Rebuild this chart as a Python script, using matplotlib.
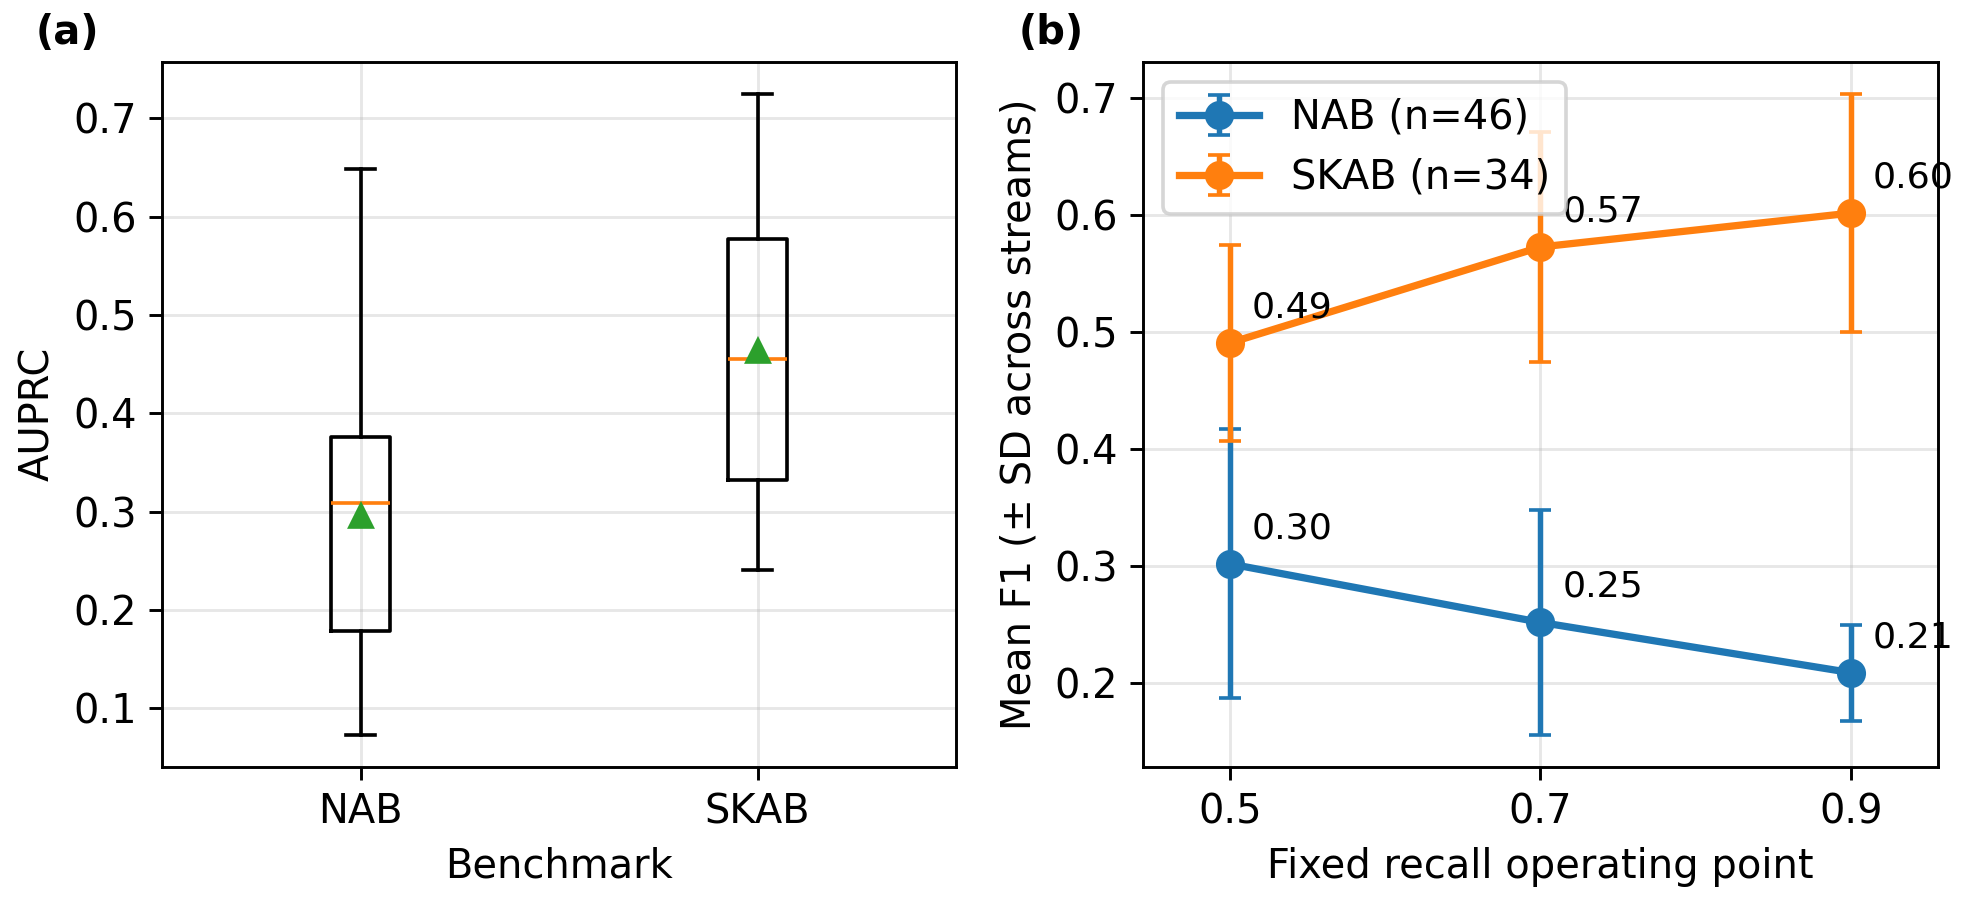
import matplotlib
matplotlib.use("Agg")
import matplotlib.pyplot as plt

# (a) AUPRC box statistics per benchmark
benchmarks = ["NAB", "SKAB"]
whisker_low = [0.073, 0.241]
q1 = [0.178, 0.332]
median = [0.309, 0.455]
q3 = [0.376, 0.577]
whisker_high = [0.648, 0.725]
mean_auprc = [0.295, 0.463]

# (b) mean F1 at fixed recall operating points
recall_points = [0.5, 0.7, 0.9]
nab_f1 = [0.302, 0.252, 0.209]
nab_sd = [0.115, 0.096, 0.041]
skab_f1 = [0.491, 0.573, 0.602]
skab_sd = [0.084, 0.098, 0.102]
series_labels = ["NAB (n=46)", "SKAB (n=34)"]

plt.rcParams["font.size"] = 11

W, H, DPI = 1966, 904, 262
fig = plt.figure(figsize=(W / DPI, H / DPI), dpi=DPI)
ax1 = fig.add_axes([0.0824, 0.1519, 0.4039, 0.7798])
ax2 = fig.add_axes([0.5814, 0.1519, 0.4043, 0.7798])

# panel (a)
stats = []
for i, name in enumerate(benchmarks):
    stats.append(dict(label=name, whislo=whisker_low[i], q1=q1[i], med=median[i],
                      q3=q3[i], whishi=whisker_high[i], mean=mean_auprc[i], fliers=[]))
ax1.bxp(stats, showmeans=True)
ax1.set_ylabel("AUPRC")
ax1.set_xlabel("Benchmark")
ax1.grid(True, alpha=0.3)
ax1.set_axisbelow(True)

# panel (b)
for vals, sds, lab in [(nab_f1, nab_sd, series_labels[0]), (skab_f1, skab_sd, series_labels[1])]:
    ax2.errorbar(recall_points, vals, yerr=sds, marker="o", markersize=7,
                 linewidth=2, elinewidth=1.5, capsize=3, label=lab)
    for x, y in zip(recall_points, vals):
        ax2.annotate(f"{y:.2f}", (x, y), xytext=(6, 7), textcoords="offset points",
                     fontsize=10)
ax2.set_xticks(recall_points)
ax2.set_xlim(0.444, 0.956)
ax2.set_xlabel("Fixed recall operating point")
ax2.set_ylabel("Mean F1 (± SD across streams)")
ax2.grid(True, alpha=0.3)
ax2.legend(loc="upper left")

ax1.text(-0.159, 1.041, "(a)", transform=ax1.transAxes, fontsize=11,
         fontweight="bold", ha="left", va="center")
ax2.text(-0.157, 1.041, "(b)", transform=ax2.transAxes, fontsize=11,
         fontweight="bold", ha="left", va="center")

fig.savefig("out.png", dpi=DPI)
